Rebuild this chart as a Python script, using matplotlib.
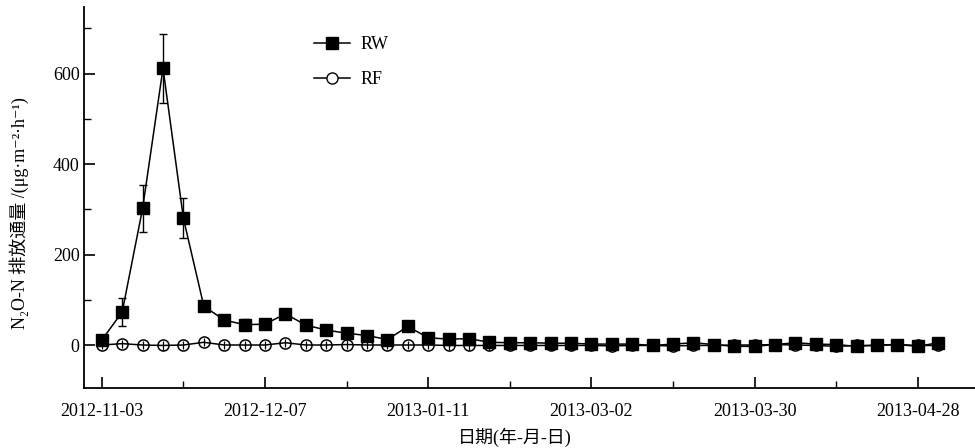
import numpy as np
import matplotlib
matplotlib.use("Agg")
import matplotlib.pyplot as plt
from matplotlib.ticker import FixedLocator, MultipleLocator

# sampling index (evenly spaced on the plot), labelled every 8th sample
tick_labels = ["2012-11-03", "2012-12-07", "2013-01-11",
               "2013-03-02", "2013-03-30", "2013-04-28"]

rw = [11, 73, 302, 612, 280, 86, 55, 45, 46, 69, 44, 33, 26, 21, 12, 41,
      16, 13, 14, 6, 5, 5, 4, 4, 2, 2, 2, -1, 2, 5, 1, -3, -3, 1, 5, 2,
      1, -3, 0, 1, -3, 5]
rw_err = [2, 31, 52, 76, 44, 9, 7, 12, 4, 5, 3, 3, 3, 3, 3, 10,
          3, 3, 3, 2, 2, 2, 2, 2, 2, 2, 2, 2, 2, 2, 2, 2, 2, 2, 2, 2,
          2, 2, 2, 2, 2, 2]
rf = [0, 3, 0, -1, 0, 6, 0, 0, 0, 5, 0, 0, 1, 0, 0, 0, 0, -1, -1, -1,
      -1, -1, -1, -1, -1, -2, -1, -1, -2, -1, -1, 0, 0, 1, 0, -1, -3, -1,
      -1, 1, -1, -1]
rf_err = [9] * len(rf)

serif = ["Liberation Serif", "Noto Sans CJK SC", "DejaVu Serif"]
plt.rcParams["font.family"] = serif

x = np.arange(len(rw))

fig = plt.figure(figsize=(9.75, 4.48), dpi=100)
ax = fig.add_axes([0.086, 0.134, 0.914, 0.851])

# RF: white circles first, then line + error bars on top (gives the crossed look)
ax.plot(x, rf, ls="none", marker="o", ms=8, mfc="white", mec="black",
        mew=1.1, zorder=2)
ax.errorbar(x, rf, yerr=rf_err, color="black", lw=1.1, elinewidth=0.9,
            capsize=0, zorder=3)

ax.errorbar(x, rw, yerr=rw_err, color="black", lw=1.1, elinewidth=1.0,
            capsize=3, capthick=1.0, marker="s", ms=8, mfc="black",
            mec="black", zorder=4)

# legend proxies
ax.plot([], [], color="black", lw=1.1, marker="s", ms=8, label="RW")
ax.plot([], [], color="black", lw=1.1, marker="o", ms=8, mfc="white",
        label="RF")
ax.legend(loc="upper left", bbox_to_anchor=(0.24, 0.965), frameon=False,
          fontsize=13, handlelength=2.0, handletextpad=0.6, labelspacing=1.0)

ax.set_xlim(-0.88, 42.8)
ax.set_ylim(-95, 748)

ax.xaxis.set_major_locator(FixedLocator(np.arange(0, 41, 8)))
ax.xaxis.set_minor_locator(FixedLocator(np.arange(4, 41, 8)))
ax.set_xticklabels(tick_labels)
ax.yaxis.set_major_locator(MultipleLocator(200))
ax.yaxis.set_minor_locator(MultipleLocator(100))

ax.tick_params(axis="both", which="major", direction="in", length=8,
               width=1.2, labelsize=13)
ax.tick_params(axis="both", which="minor", direction="in", length=5,
               width=1.0)
ax.tick_params(axis="x", which="major", pad=11)
ax.tick_params(axis="y", which="major", pad=3)

for side in ["top", "right"]:
    ax.spines[side].set_visible(False)
for side in ["left", "bottom"]:
    ax.spines[side].set_linewidth(1.3)

ax.set_xlabel("日期(年-月-日)", fontsize=13, labelpad=2)
ax.xaxis.set_label_coords(0.483, -0.105)
ax.set_ylabel("N₂O-N 排放通量 /(μg·m⁻²·h⁻¹)", fontsize=13)
ax.yaxis.set_label_coords(-0.061, 0.46)

fig.savefig("out.png", dpi=100)
